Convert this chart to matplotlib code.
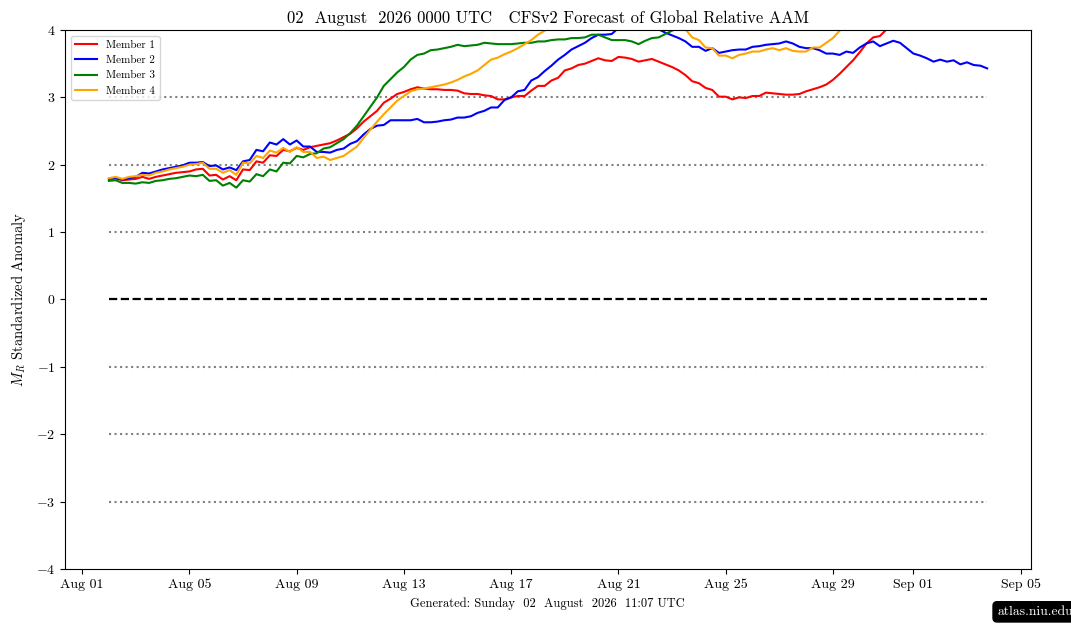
import matplotlib
matplotlib.use("Agg")
import matplotlib.pyplot as plt
import matplotlib.dates as mdates
import numpy as np
import pandas as pd

plt.rcParams['font.family'] = ['cmr10', 'DejaVu Serif']
plt.rcParams['mathtext.fontset'] = 'cm'
plt.rcParams['axes.formatter.use_mathtext'] = True
plt.rcParams['axes.unicode_minus'] = True

start = "2026-08-02 00:00"
n_steps = 132
dates = pd.date_range(start, periods=n_steps, freq="6h")

member1 = [1.79, 1.80, 1.77, 1.78, 1.79, 1.82, 1.79, 1.82, 1.84, 1.86, 1.88, 1.89, 1.90, 1.93, 1.94, 1.84, 1.85, 1.78, 1.83, 1.77,
           1.93, 1.92, 2.05, 2.03, 2.14, 2.13, 2.22, 2.20,
           2.25, 2.22, 2.26, 2.28, 2.30, 2.32, 2.36, 2.41, 2.46, 2.54, 2.64, 2.72, 2.80, 2.92, 2.98,
           3.05, 3.08, 3.12, 3.15, 3.13, 3.12, 3.12, 3.11, 3.11, 3.10, 3.06, 3.05, 3.05, 3.03, 3.02,
           2.97, 2.97, 3.00, 3.02, 3.02, 3.10, 3.17, 3.17, 3.25, 3.29, 3.40, 3.43, 3.48, 3.50, 3.54,
           3.58, 3.55, 3.54, 3.60, 3.59, 3.57, 3.53, 3.55, 3.57, 3.53, 3.49,
           3.45, 3.40, 3.33, 3.24, 3.21, 3.14, 3.11, 3.01, 3.01, 2.97, 3.00, 2.99, 3.02, 3.02, 3.07,
           3.06, 3.05, 3.04, 3.04, 3.05, 3.09, 3.12, 3.15, 3.19, 3.26, 3.35, 3.45, 3.55, 3.67, 3.80,
           3.89, 3.91, 4.01, 4.08, 4.15, 4.21, 4.26, 4.30, 4.33, 4.35, 4.37, 4.38, 4.39, 4.40, 4.40,
           4.41, 4.41, 4.42]

member2 = [1.79, 1.80, 1.78, 1.80, 1.82, 1.88, 1.87, 1.90, 1.93, 1.95, 1.97, 1.99, 2.03, 2.03, 2.04, 1.98, 1.99, 1.93, 1.96, 1.92,
           2.05, 2.07, 2.22, 2.20, 2.33, 2.30, 2.38, 2.30, 2.36,
           2.27, 2.27, 2.19, 2.19, 2.18, 2.22, 2.24, 2.31, 2.35, 2.45, 2.53, 2.58, 2.59, 2.66, 2.66,
           2.66, 2.66, 2.68, 2.63, 2.63, 2.64, 2.66, 2.67, 2.70, 2.70, 2.72, 2.77, 2.80, 2.85,
           2.85, 2.96, 3.00, 3.09, 3.11, 3.25, 3.30, 3.39, 3.47, 3.56, 3.63, 3.71, 3.76, 3.81,
           3.88, 3.93, 3.93, 3.94, 4.03, 4.08, 4.12, 4.12, 4.10, 4.06, 4.01, 3.96, 3.92, 3.88,
           3.83, 3.75, 3.75, 3.69, 3.73, 3.66, 3.68, 3.70, 3.71, 3.71, 3.75, 3.76, 3.78, 3.79,
           3.80, 3.83, 3.80, 3.75, 3.73, 3.73, 3.70, 3.65, 3.65, 3.63, 3.68, 3.66, 3.74, 3.80,
           3.83, 3.76, 3.80, 3.84, 3.81, 3.73, 3.65, 3.62, 3.58, 3.53, 3.56, 3.53, 3.55, 3.49,
           3.52, 3.48, 3.47, 3.43]

member3 = [1.76, 1.77, 1.73, 1.73, 1.72, 1.74, 1.73, 1.76, 1.77, 1.79, 1.80, 1.82, 1.84, 1.83, 1.85, 1.76, 1.77, 1.69, 1.73, 1.66,
           1.77, 1.75, 1.86, 1.83, 1.93, 1.90, 2.03, 2.02, 2.13, 2.11, 2.16, 2.17, 2.24, 2.26, 2.32,
           2.38, 2.47, 2.58, 2.72, 2.86, 3.00, 3.17, 3.27, 3.37, 3.45, 3.56, 3.63, 3.65, 3.70, 3.71,
           3.73, 3.75, 3.78, 3.76, 3.77, 3.78,
           3.81, 3.80, 3.79, 3.79, 3.79, 3.80, 3.81, 3.81, 3.83, 3.83, 3.85, 3.86, 3.86, 3.88, 3.88,
           3.89, 3.93, 3.93, 3.89, 3.85, 3.85, 3.85, 3.83, 3.79, 3.84, 3.88, 3.89, 3.94, 3.99, 4.03,
           4.08, 4.12, 4.17, 4.21, 4.24, 4.27, 4.29, 4.31, 4.33, 4.34,
           4.36, 4.37, 4.39, 4.40, 4.42, 4.43, 4.45, 4.46, 4.47, 4.49,
           4.50, 4.52, 4.53, 4.55, 4.56, 4.57, 4.58, 4.60, 4.61, 4.62,
           4.63, 4.64, 4.66, 4.67, 4.68, 4.69, 4.70, 4.71, 4.72, 4.73,
           4.74, 4.75, 4.76, 4.77, 4.78, 4.79]

member4 = [1.80, 1.82, 1.79, 1.82, 1.83, 1.85, 1.84, 1.88, 1.90, 1.93, 1.95, 1.97, 2.00, 2.01, 2.03, 1.94, 1.94, 1.88, 1.92, 1.85,
           2.03, 2.02, 2.13, 2.10, 2.21, 2.18, 2.25, 2.19, 2.26, 2.19, 2.19, 2.10, 2.12, 2.07, 2.10,
           2.13, 2.20, 2.27, 2.40, 2.52, 2.64, 2.75, 2.85, 2.95, 3.02, 3.09, 3.12, 3.13, 3.15, 3.17,
           3.19, 3.22, 3.26, 3.31, 3.35, 3.40,
           3.48, 3.56, 3.59, 3.64, 3.68, 3.73, 3.79, 3.85, 3.93, 3.99,
           4.05, 4.10, 4.15, 4.19, 4.22, 4.25, 4.27, 4.28, 4.29, 4.30,
           4.30, 4.29, 4.28, 4.27, 4.25, 4.23, 4.20, 4.17, 4.13, 4.07,
           4.01, 3.89, 3.85, 3.74, 3.73, 3.62, 3.62, 3.58, 3.63, 3.65, 3.68, 3.68, 3.71, 3.73, 3.70,
           3.73, 3.69, 3.68, 3.68, 3.74, 3.74, 3.81, 3.88, 3.99, 4.08,
           4.16, 4.23, 4.30, 4.36, 4.41, 4.45, 4.49, 4.52, 4.55, 4.57, 4.59, 4.61, 4.62, 4.64, 4.65,
           4.66, 4.67, 4.68, 4.69, 4.70, 4.71]

member_names = ["Member 1", "Member 2", "Member 3", "Member 4"]
member_colors = ["red", "blue", "green", "orange"]
ref_levels = [-3, -2, -1, 1, 2, 3]
y_ticks = [-4, -3, -2, -1, 0, 1, 2, 3, 4]
tick_days = [1, 5, 9, 13, 17, 21, 25, 29]

title_text = "02  August  2026 0000 UTC   CFSv2 Forecast of Global Relative AAM"
ylabel_text = r"$M_R$ Standardized Anomaly"
generated_text = "Generated: Sunday  02  August  2026  11:07 UTC"
site_text = "atlas.niu.edu"

fig = plt.figure(figsize=(10.71, 6.38), dpi=100)
ax = fig.add_axes([0.0607, 0.1082, 0.902, 0.8448])

for lev in ref_levels:
    ax.plot(dates, np.full(len(dates), lev), color="gray", linestyle=":", linewidth=1.5)
ax.plot(dates, np.zeros(len(dates)), color="black", linestyle="--", linewidth=1.6)

for vals, name, col in zip([member1, member2, member3, member4], member_names, member_colors):
    ax.plot(dates, vals, color=col, linewidth=1.5, label=name)

ax.set_ylim(-4, 4)
ax.set_yticks(y_ticks)
ax.xaxis.set_major_locator(mdates.DayLocator(bymonthday=tick_days))
ax.xaxis.set_major_formatter(mdates.DateFormatter("%b %d"))
ax.tick_params(labelsize=10)
ax.set_ylabel(ylabel_text, fontsize=10.5, labelpad=6)
ax.set_title(title_text, fontsize=12, pad=5)

leg = ax.legend(loc="upper left", fontsize=8, framealpha=0.8)

fig.text(0.511, 0.0533, generated_text, ha="center", va="center", fontsize=9)
fig.text(0.931, 0.041, site_text, ha="left", va="center", fontsize=9.8, color="white",
         bbox=dict(boxstyle="round,pad=0.3", fc="black", ec="black"))

fig.savefig("out.png", dpi=100)
